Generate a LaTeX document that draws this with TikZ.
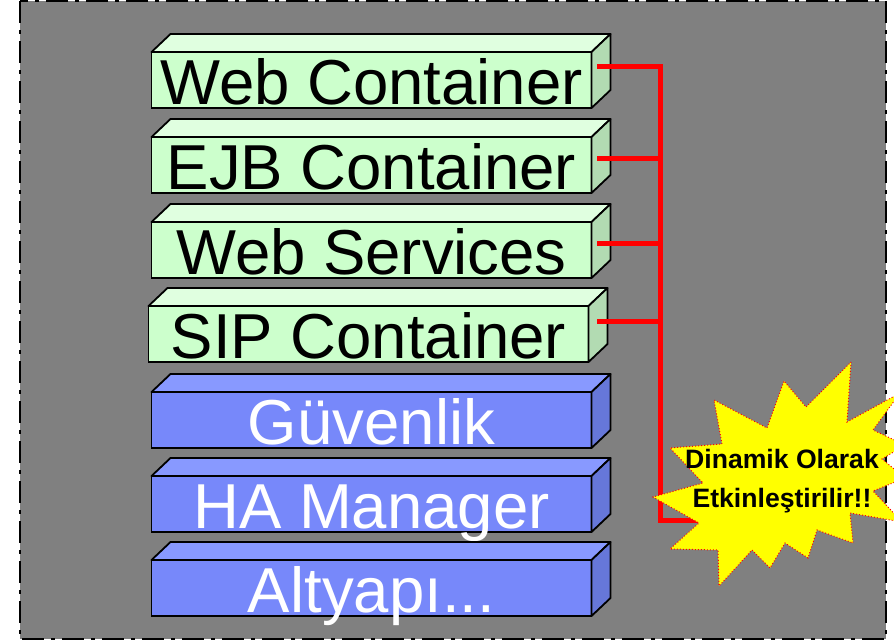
\documentclass[tikz,border=0pt]{standalone}
\usepackage{fontspec}
\setmainfont{Liberation Sans}
\usetikzlibrary{calc}
\definecolor{bgray}{RGB}{128,128,128}
\definecolor{gfront}{RGB}{204,255,204}
\definecolor{gtop}{RGB}{224,255,224}
\definecolor{gside}{RGB}{178,219,178}
\definecolor{bfront}{RGB}{119,136,250}
\definecolor{btop}{RGB}{136,153,255}
\definecolor{bside}{RGB}{102,119,217}
\definecolor{burstyellow}{RGB}{255,255,0}
\tikzset{
  boxfront/.style={draw=black, line width=1.8pt, inner sep=0pt, outer sep=0pt,
    minimum width=440pt, minimum height=56pt, text height=52.5pt, text depth=3.5pt,
    font=\fontsize{63.5}{63.5}\selectfont, anchor=north west},
  greenbox/.style={boxfront, fill=gfront, text=black},
  bluebox/.style={boxfront, fill=bfront, text=white},
  facestyle/.style={draw=black, line width=1.8pt, line join=round},
  redline/.style={draw=red, line width=5pt},
  framestyle/.style={draw=black, line width=2pt, dash pattern=on 22pt off 7pt on 4pt off 7pt},
  burststyle/.style={draw=red, fill=burstyellow, line width=1pt, dotted},
  bursttextstyle/.style={font=\bfseries\fontsize{26.6}{39}\selectfont, align=center, text=black}
}
\newcommand\cubefaces[3]{%
  \filldraw[facestyle, fill=#2] (#1.north west) -- ++(19,-18) -- ($(#1.north east)+(19,-18)$) -- (#1.north east) -- cycle;
  \filldraw[facestyle, fill=#3] (#1.north east) -- ++(19,-18) -- ($(#1.south east)+(19,-18)$) -- (#1.south east) -- cycle;}
\begin{document}
\begin{tikzpicture}[x=1pt, y=-1pt]
\useasboundingbox (0,0) rectangle (894,640);
\fill[white] (0,0) rectangle (894,640);
\fill[bgray] (20,1) rectangle (886,639);
\draw[framestyle] (20,1) rectangle (886,639);

\node[greenbox] (b1) at (151.5,52) {Web Container};
\node[greenbox] (b2) at (151.5,137) {EJB Container};
\node[greenbox] (b3) at (151.5,222) {Web Services};
\node[greenbox] (b4) at (148.5,306) {SIP Container};
\node[bluebox] (b5) at (151.5,392) {Güvenlik};
\node[bluebox] (b6) at (151.5,476) {HA Manager};
\node[bluebox] (b7) at (151.5,560) {Altyapı...};

\cubefaces{b1}{gtop}{gside}
\cubefaces{b2}{gtop}{gside}
\cubefaces{b3}{gtop}{gside}
\cubefaces{b4}{gtop}{gside}
\cubefaces{b5}{btop}{bside}
\cubefaces{b6}{btop}{bside}
\cubefaces{b7}{btop}{bside}

\coordinate (s1) at (597,66);
\coordinate (s2) at (597,158);
\coordinate (s3) at (597,243);
\coordinate (s4) at (597,321);
\coordinate (j1) at (660,66);
\coordinate (j2) at (660,158);
\coordinate (j3) at (660,243);
\coordinate (j4) at (660,321);
\coordinate (jc) at (660,520);
\coordinate (se) at (700,520);
\draw[redline] (s1) -- (j1) -- (jc) -- (se);
\draw[redline] (s2) -- (j2);
\draw[redline] (s3) -- (j3);
\draw[redline] (s4) -- (j4);

\filldraw[burststyle] (851,362) -- (847,422) -- (900,393) -- (873,430) -- (905,445) -- (882,459)
  -- (905,478) -- (873,491) -- (902,522) -- (850,513) -- (853,543) -- (817,530) -- (808,558)
  -- (785,543) -- (770,568) -- (752,550) -- (719,586) -- (718,550) -- (670,549) -- (699,523)
  -- (653,497) -- (703,483) -- (670,448) -- (722,444) -- (714,400) -- (767,428) -- (784,381)
  -- (806,407) -- cycle;
\node[bursttextstyle] (burst) at (782,481) {Dinamik Olarak\\Etkinleştirilir!!};
\end{tikzpicture}
\end{document}
